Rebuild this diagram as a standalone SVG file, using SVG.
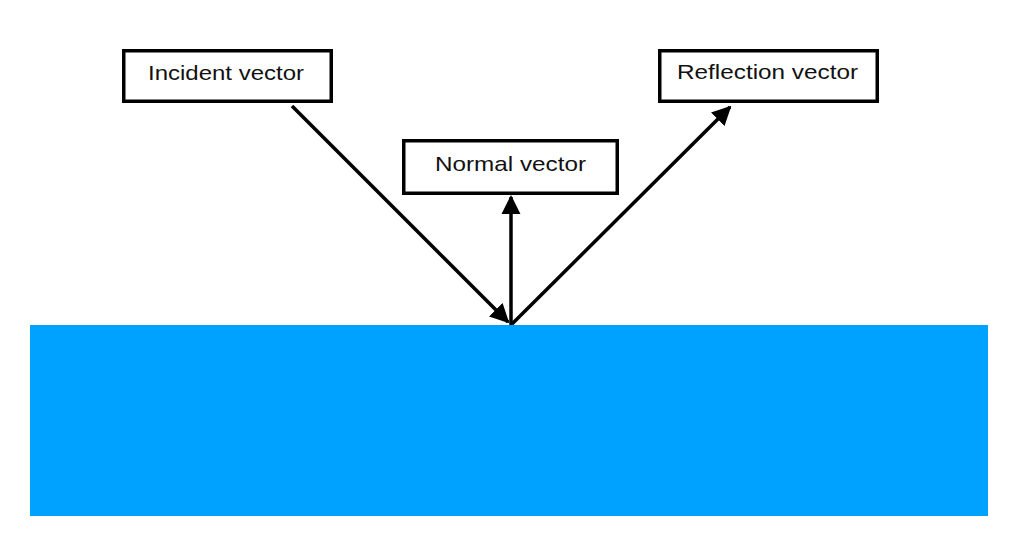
<svg xmlns="http://www.w3.org/2000/svg" width="1023" height="544" viewBox="0 0 1023 544">
<style>
.box{fill:#fff;stroke:#000;stroke-width:3.5}
.lbl{font-family:"Liberation Sans",Arial,sans-serif;font-size:21px;fill:#111;text-anchor:middle}
.con{stroke:#000;stroke-width:3.5;fill:none}
</style>
<defs>
<marker id="ah" viewBox="0 0 10 10" refX="9" refY="5" markerWidth="5.5" markerHeight="5.5" markerUnits="strokeWidth" orient="auto">
<path d="M0,0 L10,5 L0,10 z" fill="#000"/>
</marker>
</defs>
<rect width="1023" height="544" fill="#fff"/>
<g id="surface"><rect x="30" y="325" width="958" height="191" fill="#00A2FF"/></g>
<g id="connectors">
<line class="con" x1="292" y1="106" x2="508" y2="322" marker-end="url(#ah)"/>
<line class="con" x1="511" y1="325" x2="511" y2="197" marker-end="url(#ah)"/>
<line class="con" x1="512" y1="324" x2="730" y2="107" marker-end="url(#ah)"/>
</g>
<g id="incident"><rect class="box" x="123.75" y="50.75" width="207.5" height="50.5"/><text class="lbl" x="226" y="80" textLength="156" lengthAdjust="spacingAndGlyphs">Incident vector</text></g>
<g id="normal"><rect class="box" x="403.75" y="140.75" width="213.5" height="52.5"/><text class="lbl" x="510.5" y="171" textLength="151" lengthAdjust="spacingAndGlyphs">Normal vector</text></g>
<g id="reflection"><rect class="box" x="659.75" y="50.75" width="217.5" height="50.5"/><text class="lbl" x="767.5" y="79" textLength="181" lengthAdjust="spacingAndGlyphs">Reflection vector</text></g>
</svg>
